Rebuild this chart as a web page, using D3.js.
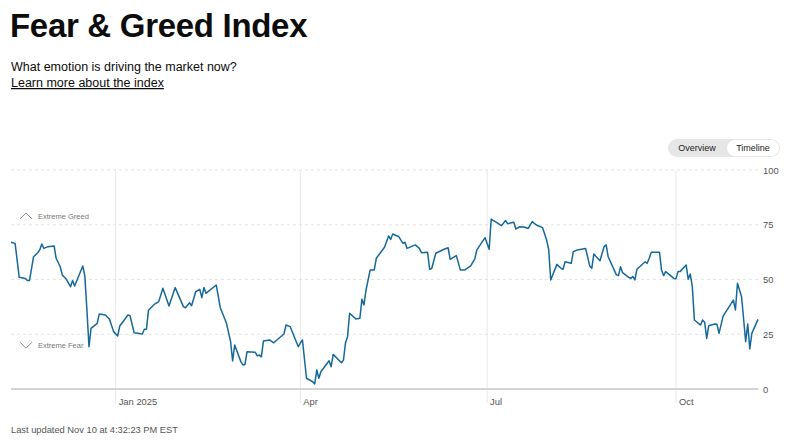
<!DOCTYPE html>
<html>
<head>
<meta charset="utf-8">
<script src="https://cdn.jsdelivr.net/npm/d3@7"></script>
<style>
  body { margin: 0; background: #fff; font-family: "Liberation Sans", Arial, sans-serif; }
</style>
</head>
<body>
<div id="chart"></div>
<script>
// Fear & Greed index, daily readings
const dates = [
  "2024-11-11","2024-11-13","2024-11-15","2024-11-18","2024-11-19","2024-11-20","2024-11-22","2024-11-24",
  "2024-11-25","2024-11-26","2024-11-27","2024-11-29","2024-12-02","2024-12-03","2024-12-05","2024-12-06",
  "2024-12-08","2024-12-10","2024-12-11","2024-12-12","2024-12-14","2024-12-16","2024-12-17","2024-12-18",
  "2024-12-19","2024-12-20","2024-12-23","2024-12-24","2024-12-27","2024-12-29","2024-12-31","2025-01-02",
  "2025-01-03","2025-01-07","2025-01-08","2025-01-10","2025-01-14","2025-01-15","2025-01-16","2025-01-17",
  "2025-01-20","2025-01-22","2025-01-24","2025-01-27","2025-01-30","2025-02-03","2025-02-04","2025-02-06",
  "2025-02-07","2025-02-09","2025-02-11","2025-02-12","2025-02-13","2025-02-14","2025-02-19","2025-02-21",
  "2025-02-24","2025-02-26","2025-02-27","2025-02-28","2025-03-03","2025-03-04","2025-03-05","2025-03-06",
  "2025-03-10","2025-03-11","2025-03-12","2025-03-13","2025-03-14","2025-03-17","2025-03-19","2025-03-24",
  "2025-03-25","2025-03-27","2025-03-31","2025-04-01","2025-04-02","2025-04-04","2025-04-07","2025-04-08",
  "2025-04-09","2025-04-10","2025-04-11","2025-04-15","2025-04-16","2025-04-17","2025-04-21","2025-04-22",
  "2025-04-23","2025-04-24","2025-04-25","2025-04-28","2025-04-30","2025-05-01","2025-05-02","2025-05-03",
  "2025-05-05","2025-05-07","2025-05-08","2025-05-12","2025-05-14","2025-05-15","2025-05-16","2025-05-19",
  "2025-05-21","2025-05-22","2025-05-23","2025-05-27","2025-05-29","2025-05-30","2025-06-02","2025-06-03",
  "2025-06-04","2025-06-06","2025-06-10","2025-06-12","2025-06-13","2025-06-16","2025-06-18","2025-06-20",
  "2025-06-23","2025-06-25","2025-06-26","2025-06-30","2025-07-02","2025-07-03","2025-07-08","2025-07-10",
  "2025-07-11","2025-07-14","2025-07-15","2025-07-17","2025-07-19","2025-07-21","2025-07-23","2025-07-25",
  "2025-07-28","2025-07-30","2025-07-31","2025-08-01","2025-08-04","2025-08-06","2025-08-07","2025-08-08",
  "2025-08-11","2025-08-12","2025-08-14","2025-08-18","2025-08-20","2025-08-21","2025-08-22","2025-08-25",
  "2025-08-27","2025-08-28","2025-08-29","2025-09-02","2025-09-03","2025-09-04","2025-09-05","2025-09-08",
  "2025-09-09","2025-09-10","2025-09-11","2025-09-12","2025-09-16","2025-09-17","2025-09-18","2025-09-19",
  "2025-09-23","2025-09-24","2025-09-25","2025-09-26","2025-09-30","2025-10-01","2025-10-02","2025-10-03",
  "2025-10-06","2025-10-07","2025-10-08","2025-10-09","2025-10-10","2025-10-13","2025-10-14","2025-10-15",
  "2025-10-16","2025-10-17","2025-10-20","2025-10-21","2025-10-22","2025-10-24","2025-10-29","2025-10-30",
  "2025-10-31","2025-11-02","2025-11-04","2025-11-05","2025-11-06","2025-11-07","2025-11-10"
];
const scores = [
  67,66.5,51,50.5,49.5,49.5,60.4,62.2,
  63.5,66.2,64.2,65,65.3,59.7,55.8,52.1,
  50.1,46.7,49.5,47,51.6,56.2,51.3,36,
  19.3,27.7,30,34.2,33.8,31.8,26.2,24.2,
  28.8,33.8,33.5,25.7,25.1,27.3,27.3,36,
  38.8,39.9,46,37.9,46.3,37.6,37.1,39.4,
  38,44.4,45.5,41.7,46.3,43.7,47.5,37.1,
  30,21.6,12.8,20.1,12.5,11,11.2,17,
  16.8,15.1,15.5,14.7,21.9,22.4,21.1,25.1,
  29.2,28.5,19.3,21,22.4,4.9,3.3,2.3,
  8.7,4.9,7.9,12.9,10.2,15.8,12,13.2,
  21.1,23.9,34.6,32,32.3,41,38.4,45.2,
  54.3,54.3,59.7,64.7,69.9,68.3,70.8,69.5,
  66.5,67,64.2,65.8,64.2,62.2,62.4,54.7,
  55,62,63.8,64.5,59.2,60.9,54.3,54.3,
  56.2,59.4,63.5,69.1,63.8,77.6,74.6,76.9,
  75.5,76.1,73.1,74.1,74,73.3,76.4,74.9,
  73.7,68,63.8,49.8,56.9,55.1,54.7,58.1,
  57.4,62.7,63.5,64.2,56.2,55.1,61.6,58.6,
  65,65.8,60.4,52.1,51.8,55.8,53.1,51,
  50.5,51.4,49.8,54.7,58.1,57.4,59.7,62.4,
  62.4,54.3,51.8,53.6,50.5,50.3,53.6,53.6,
  56.6,50.1,52.5,46.7,31.5,29.2,31.5,30.5,
  23.1,28.9,29.7,29.6,25.4,33.3,40.6,36.1,
  48.3,42.1,21.6,29.7,18.3,25.4,31.8
];
const yTicks = [0, 25, 50, 75, 100];
const xTicks = ["2025-01-01", "2025-04-01", "2025-07-01", "2025-10-01"];
const xTickLabels = ["Jan 2025", "Apr", "Jul", "Oct"];
const zoneLabels = ["Extreme Greed", "Extreme Fear"];
const zoneValues = [79, 20];
const toggleLabels = ["Overview", "Timeline"];

const width = 800, height = 440;
const plotLeft = 11, plotRight = 758, plotTop = 170, plotBottom = 389;
const parse = d3.timeParse("%Y-%m-%d");
const data = dates.map((d, i) => ({ date: parse(d), value: scores[i] }));

const svg = d3.select("#chart").append("svg")
  .attr("width", width).attr("height", height)
  .style("font-family", '"Liberation Sans", Arial, sans-serif');

// header
svg.append("text").attr("x", 10).attr("y", 37)
  .attr("font-size", 33).attr("font-weight", "bold").attr("fill", "#0c0c0c")
  .attr("letter-spacing", -0.3)
  .text("Fear & Greed Index");
svg.append("text").attr("x", 11).attr("y", 71)
  .attr("font-size", 12.5).attr("fill", "#0c0c0c")
  .text("What emotion is driving the market now?");
svg.append("text").attr("x", 11).attr("y", 87)
  .attr("font-size", 12.5).attr("fill", "#0c0c0c")
  .attr("text-decoration", "underline")
  .text("Learn more about the index");

// toggle
const tg = svg.append("g");
tg.append("rect").attr("x", 668).attr("y", 139).attr("width", 112).attr("height", 18)
  .attr("rx", 9).attr("fill", "#e6e6e6");
tg.append("rect").attr("x", 727).attr("y", 140).attr("width", 52).attr("height", 16)
  .attr("rx", 8).attr("fill", "#fff");
tg.selectAll("text.tog").data(toggleLabels).enter().append("text")
  .attr("class", "tog")
  .attr("x", (d, i) => i === 0 ? 697 : 753)
  .attr("y", 151).attr("text-anchor", "middle")
  .attr("font-size", 9).attr("fill", "#222")
  .text(d => d);

const x = d3.scaleTime()
  .domain(d3.extent(data, d => d.date))
  .range([plotLeft, plotRight]);
const y = d3.scaleLinear().domain([0, 100]).range([plotBottom, plotTop]);

// vertical grid + month labels
const xt = xTicks.map(parse);
svg.selectAll("line.vgrid").data(xt).enter().append("line")
  .attr("x1", d => x(d)).attr("x2", d => x(d))
  .attr("y1", plotTop).attr("y2", 403)
  .attr("stroke", "#e9e9e9").attr("stroke-width", 1);
svg.selectAll("text.xlab").data(xt).enter().append("text")
  .attr("x", d => x(d) + 3).attr("y", 405)
  .attr("font-size", 9.4).attr("fill", "#555")
  .text((d, i) => xTickLabels[i]);

// horizontal grid
svg.selectAll("line.hgrid").data(yTicks.filter(v => v > 0)).enter().append("line")
  .attr("x1", plotLeft).attr("x2", plotRight)
  .attr("y1", d => y(d)).attr("y2", d => y(d))
  .attr("stroke", "#e4e4e4").attr("stroke-dasharray", "3,3");
svg.append("line")
  .attr("x1", plotLeft).attr("x2", plotRight)
  .attr("y1", y(0)).attr("y2", y(0))
  .attr("stroke", "#d4d4d4").attr("stroke-width", 2);
svg.selectAll("text.ylab").data(yTicks).enter().append("text")
  .attr("x", 763).attr("y", d => y(d) + 3.5)
  .attr("font-size", 9.4).attr("fill", "#555")
  .text(d => d);

// zone labels
zoneLabels.forEach((lab, i) => {
  const cy = y(zoneValues[i]);
  const up = i === 0;
  svg.append("path")
    .attr("d", up
      ? `M20,${cy + 3}L26,${cy - 3}L32,${cy + 3}`
      : `M20,${cy - 3}L26,${cy + 3}L32,${cy - 3}`)
    .attr("fill", "none").attr("stroke", "#888").attr("stroke-width", 1);
  svg.append("text").attr("x", 38).attr("y", cy + 3)
    .attr("font-size", 7.5).attr("fill", "#777")
    .text(lab);
});

// the index line
const line = d3.line().x(d => x(d.date)).y(d => y(d.value));
svg.append("path").datum(data)
  .attr("d", line)
  .attr("fill", "none")
  .attr("stroke", "#15699a")
  .attr("stroke-width", 1.5)
  .attr("stroke-linejoin", "round");

svg.append("text").attr("x", 11).attr("y", 433)
  .attr("font-size", 9.3).attr("fill", "#555")
  .text("Last updated Nov 10 at 4:32:23 PM EST");
</script>
</body>
</html>
